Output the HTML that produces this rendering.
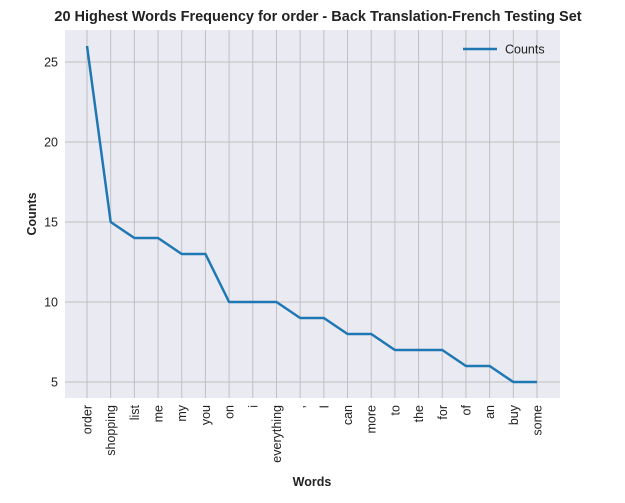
<!DOCTYPE html>
<html><head><meta charset="utf-8"><style>
body{margin:0;background:#fff;}
svg text{font-family:"Liberation Sans",Arial,sans-serif;}
</style></head><body>
<svg id="chart" width="625" height="498" xmlns="http://www.w3.org/2000/svg">
<text x="318" y="21" text-anchor="middle" font-size="14.5" font-weight="bold" fill="#222">20 Highest Words Frequency for order - Back Translation-French Testing Set</text>
<rect x="65" y="30" width="495" height="368" fill="#eaeaf2"/>
<g id="grid"></g>
<g id="xlabels"></g>
<g id="ylabels"></g>
<path id="line" fill="none" stroke="#1f77b4" stroke-width="2.5" stroke-linejoin="round"/>
<text x="312" y="486" text-anchor="middle" font-size="12.5" font-weight="bold" fill="#222">Words</text>
<text transform="translate(36,214) rotate(-90)" text-anchor="middle" font-size="12.5" font-weight="bold" fill="#222">Counts</text>
<g>
<line x1="463" y1="49" x2="497" y2="49" stroke="#1f77b4" stroke-width="2.5"/>
<text x="505" y="53.5" font-size="12.5" fill="#222">Counts</text>
</g>
</svg>
<script>
const words=["order","shopping","list","me","my","you","on","i","everything",",","I","can","more","to","the","for","of","an","buy","some"];
const counts=[26,15,14,14,13,13,10,10,10,9,9,8,8,7,7,7,6,6,5,5];
const yTicks=[5,10,15,20,25];
const NS="http://www.w3.org/2000/svg";
const x0=87,x1=537,plotL=65,plotR=560,plotT=30,plotB=398;
function xs(i){return x0+(x1-x0)*i/(words.length-1);}
function ys(v){return 382-(v-5)*16;}
const grid=document.getElementById('grid'),xl=document.getElementById('xlabels'),yl=document.getElementById('ylabels');
function mk(t,a){const e=document.createElementNS(NS,t);for(const k in a)e.setAttribute(k,a[k]);return e;}
yTicks.forEach(v=>{
 const l=mk('line',{x1:plotL,x2:plotR,y1:ys(v),y2:ys(v),stroke:'#c0c0c0','stroke-width':1});
 
 
 grid.appendChild(l);
 const t=mk('text',{x:58,y:ys(v)+4.5,'text-anchor':'end','font-size':12.5,fill:'#222'});
 t.textContent=v;
 
 
 yl.appendChild(t);
});
words.forEach((w,i)=>{
 const l=mk('line',{x1:xs(i),x2:xs(i),y1:plotT,y2:plotB,stroke:'#c0c0c0','stroke-width':1});
 
 
 grid.appendChild(l);
 const t=mk('text',{transform:`translate(${xs(i)+4.5},405) rotate(-90)`,'text-anchor':'end','font-size':12.5,fill:'#222'});
 t.textContent=w;
 
 
 xl.appendChild(t);
});
document.getElementById('line').setAttribute('d',counts.map((c,i)=>(i?'L':'M')+xs(i)+','+ys(c)).join(''));
</script>
</body></html>
